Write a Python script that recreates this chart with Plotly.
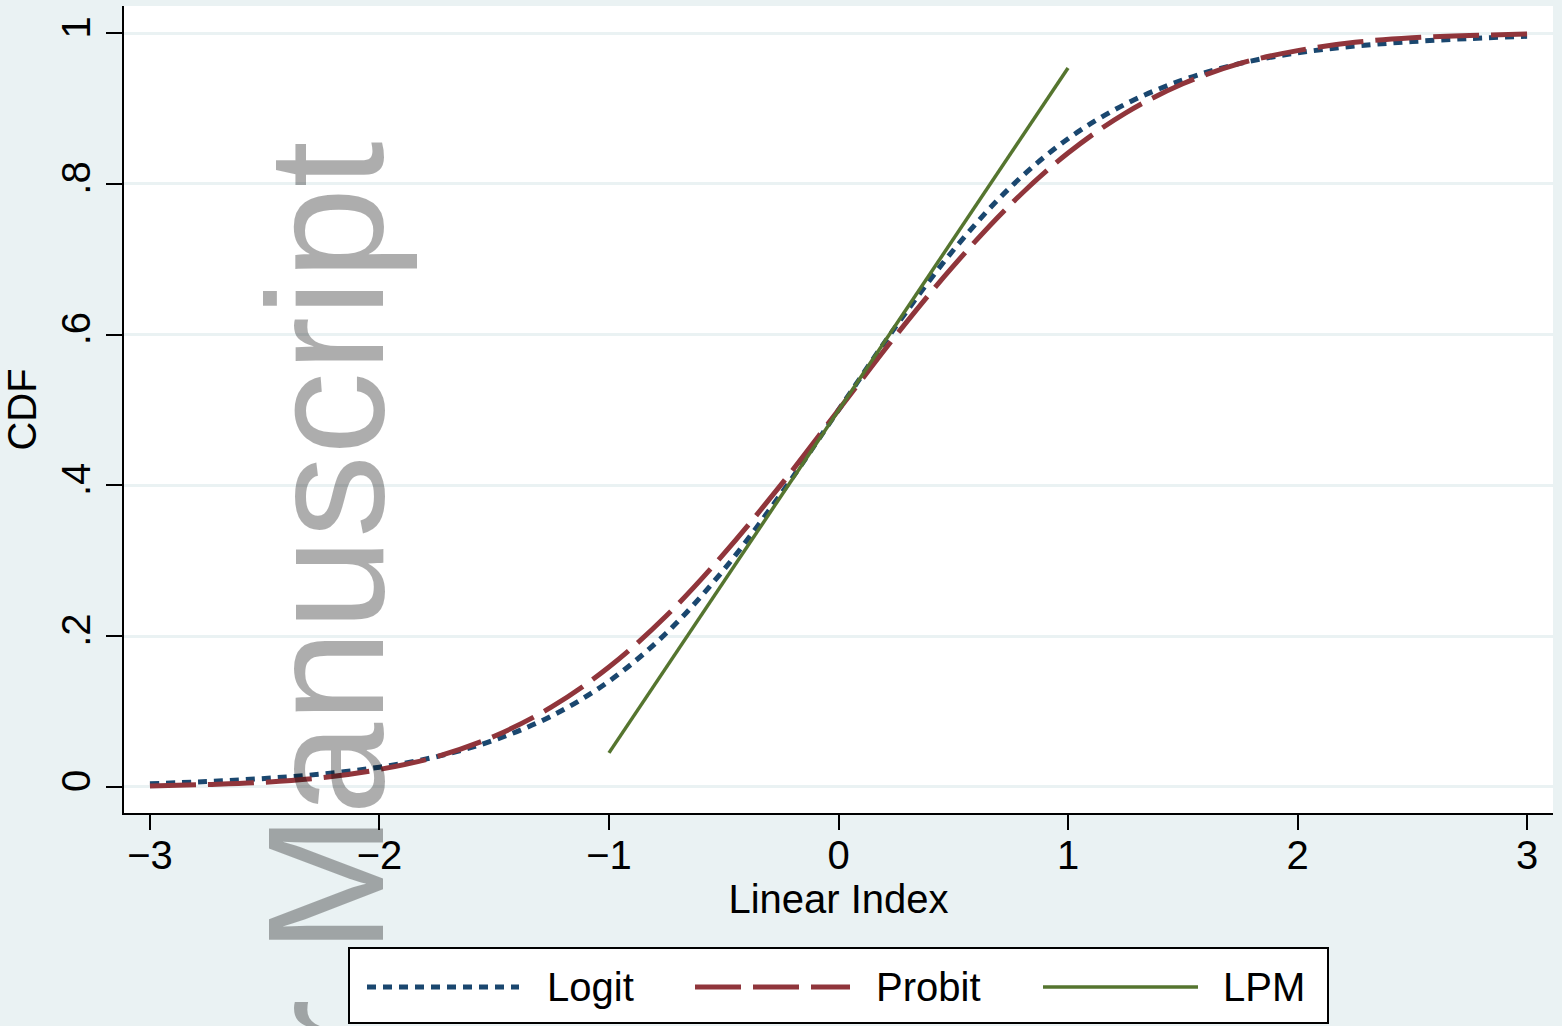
import plotly.graph_objects as go

# ---- data ----
x_index = [-3.0, -2.75, -2.5, -2.25, -2.0, -1.75, -1.5, -1.25, -1.0, -0.75, -0.5, -0.25,
           0.0, 0.25, 0.5, 0.75, 1.0, 1.25, 1.5, 1.75, 2.0, 2.25, 2.5, 2.75, 3.0]
logit_cdf = [0.004, 0.007, 0.011, 0.017, 0.026, 0.040, 0.062, 0.094, 0.140, 0.204, 0.288, 0.389,
             0.500, 0.611, 0.712, 0.796, 0.860, 0.906, 0.938, 0.960, 0.974, 0.983, 0.989, 0.993, 0.996]
probit_cdf = [0.001, 0.003, 0.006, 0.012, 0.023, 0.040, 0.067, 0.106, 0.159, 0.227, 0.309, 0.401,
              0.500, 0.599, 0.691, 0.773, 0.841, 0.894, 0.933, 0.960, 0.977, 0.988, 0.994, 0.997, 0.999]
lpm_x = [-1.0, 1.0]
lpm_cdf = [0.045, 0.954]

x_tickvals = [-3, -2, -1, 0, 1, 2, 3]
x_ticktext = ["\u22123", "\u22122", "\u22121", "0", "1", "2", "3"]
y_tickvals = [0, 0.2, 0.4, 0.6, 0.8, 1.0]
y_ticktext = ["0", ".2", ".4", ".6", ".8", "1"]
series_names = ["Logit", "Probit", "LPM"]

# ---- style ----
NAVY = "#1A476F"
MAROON = "#90353B"
GREEN = "#55752F"
BG = "#EAF2F3"
FONT = "Liberation Sans, Arial, sans-serif"

W, H = 1562, 1026
ML, MR, MT, MB = 124, 9, 6, 213
PW, PH = W - ML - MR, H - MT - MB


def px(xp):
    return (xp - ML) / PW


def py(yp):
    return (H - MB - yp) / PH


LOGIT_DASH = "9px,7px"
PROBIT_DASH = "46px,12px"

fig = go.Figure()
fig.add_trace(go.Scatter(x=x_index, y=logit_cdf, mode="lines", name=series_names[0],
                         line=dict(color=NAVY, width=5, dash=LOGIT_DASH, shape="spline")))
fig.add_trace(go.Scatter(x=x_index, y=probit_cdf, mode="lines", name=series_names[1],
                         line=dict(color=MAROON, width=5, dash=PROBIT_DASH, shape="spline")))
fig.add_trace(go.Scatter(x=lpm_x, y=lpm_cdf, mode="lines", name=series_names[2],
                         line=dict(color=GREEN, width=3.5)))

# ---- manual legend (wide samples as in the reference) ----
shapes = [dict(type="rect", xref="paper", yref="paper", x0=px(349), x1=px(1328),
               y0=py(1023), y1=py(948), line=dict(color="black", width=2), fillcolor="white",
               layer="below")]
legend_items = [
    (367, 519, 545, NAVY, 5, LOGIT_DASH),
    (695, 850, 874, MAROON, 5, PROBIT_DASH),
    (1043, 1198, 1221, GREEN, 3.5, "solid"),
]
annotations = []
for (sx0, sx1, tx, col, w, dash), name in zip(legend_items, series_names):
    shapes.append(dict(type="line", xref="paper", yref="paper", x0=px(sx0), x1=px(sx1),
                       y0=py(987), y1=py(987), line=dict(color=col, width=w, dash=dash)))
    annotations.append(dict(text=name, xref="paper", yref="paper", x=px(tx), y=py(987),
                            xanchor="left", yanchor="middle", showarrow=False,
                            font=dict(family=FONT, size=40, color="black")))

# watermark
annotations.append(dict(text="NIH-PA Author Manuscript", xref="paper", yref="paper",
                        x=px(325), y=py(140), xanchor="center", yanchor="top",
                        textangle=-90, showarrow=False,
                        font=dict(family=FONT, size=166, color="rgba(0,0,0,0.32)")))

fig.update_layout(
    width=W, height=H,
    margin=dict(l=ML, r=MR, t=MT, b=MB, pad=0),
    paper_bgcolor=BG, plot_bgcolor="white",
    showlegend=False,
    font=dict(family=FONT, size=40, color="black"),
    shapes=shapes, annotations=annotations,
    xaxis=dict(range=[-3.113, 3.113], tickvals=x_tickvals, ticktext=x_ticktext,
               showgrid=False, zeroline=False, showline=True, linecolor="black", linewidth=2,
               ticks="outside", ticklen=15, tickwidth=2, tickcolor="black",
               ticklabelstandoff=-9,
               tickfont=dict(family=FONT, size=40),
               title=dict(text="Linear Index", font=dict(family=FONT, size=40), standoff=6)),
    yaxis=dict(range=[-0.0348, 1.0362], tickvals=y_tickvals, ticktext=y_ticktext,
               tickangle=-90,
               showgrid=True, gridcolor=BG, gridwidth=3, zeroline=False,
               showline=True, linecolor="black", linewidth=2,
               ticks="outside", ticklen=16, tickwidth=2, tickcolor="black",
               tickfont=dict(family=FONT, size=40),
               title=dict(text="CDF", font=dict(family=FONT, size=40), standoff=5)),
)

fig.write_html("out.html")
